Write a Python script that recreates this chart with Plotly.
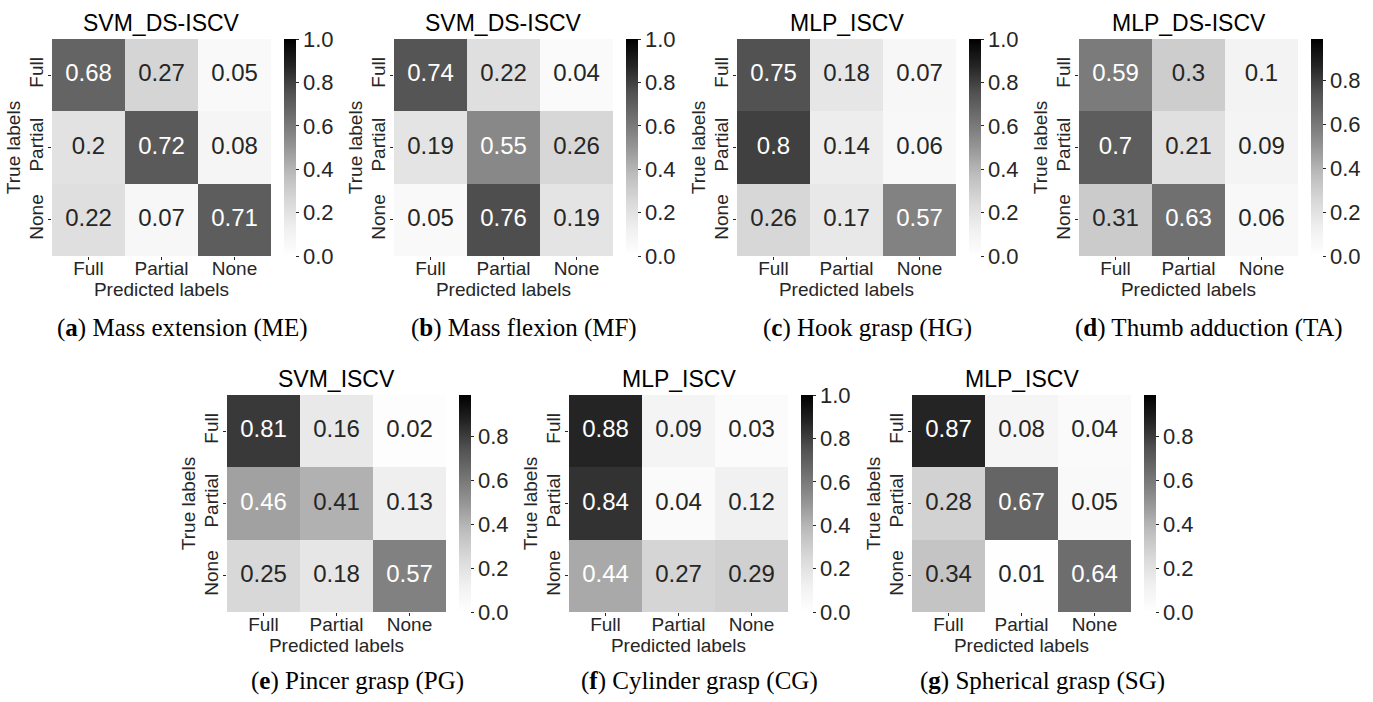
import plotly.graph_objects as go

W, H = 1373, 702

categories = ["Full", "Partial", "None"]

titles = ["SVM_DS-ISCV", "SVM_DS-ISCV", "MLP_ISCV", "MLP_DS-ISCV",
          "SVM_ISCV", "MLP_ISCV", "MLP_ISCV"]
captions = ["<b>a</b>", "<b>b</b>", "<b>c</b>", "<b>d</b>",
            "<b>e</b>", "<b>f</b>", "<b>g</b>"]
caption_names = ["Mass extension (ME)", "Mass flexion (MF)", "Hook grasp (HG)",
                 "Thumb adduction (TA)", "Pincer grasp (PG)",
                 "Cylinder grasp (CG)", "Spherical grasp (SG)"]

me = [[0.68, 0.27, 0.05], [0.2, 0.72, 0.08], [0.22, 0.07, 0.71]]
mf = [[0.74, 0.22, 0.04], [0.19, 0.55, 0.26], [0.05, 0.76, 0.19]]
hg = [[0.75, 0.18, 0.07], [0.8, 0.14, 0.06], [0.26, 0.17, 0.57]]
ta = [[0.59, 0.3, 0.1], [0.7, 0.21, 0.09], [0.31, 0.63, 0.06]]
pg = [[0.81, 0.16, 0.02], [0.46, 0.41, 0.13], [0.25, 0.18, 0.57]]
cg = [[0.88, 0.09, 0.03], [0.84, 0.04, 0.12], [0.44, 0.27, 0.29]]
sg = [[0.87, 0.08, 0.04], [0.28, 0.67, 0.05], [0.34, 0.01, 0.64]]
matrices = [me, mf, hg, ta, pg, cg, sg]
zmax_values = [1.0, 1.0, 1.0, 0.99, 0.99, 1.0, 0.99]

cbar_ticks = [0.0, 0.2, 0.4, 0.6, 0.8, 1.0]

# layout (pixels)
lefts = [52, 394, 737, 1079, 227, 569, 912]
tops = [39, 39, 39, 39, 395, 395, 395]
hm_w, hm_h = 219, 217
cb_gap, cb_w = 232, 12
cap_offset = 8
cap_y = {39: 328, 395: 681}

greys = [[0.0, "#ffffff"], [0.125, "#f0f0f0"], [0.25, "#d9d9d9"],
         [0.375, "#bdbdbd"], [0.5, "#969696"], [0.625, "#737373"],
         [0.75, "#525252"], [0.875, "#252525"], [1.0, "#000000"]]

SANS = "Liberation Sans, Arial, sans-serif"
SERIF = "Liberation Serif, Times New Roman, serif"
DARK = "#262626"

fig = go.Figure()
annotations = []
layout_axes = {}

for i, z in enumerate(matrices):
    n = i + 1
    xa = "x" if n == 1 else f"x{n}"
    ya = "y" if n == 1 else f"y{n}"
    left, top = lefts[i], tops[i]
    zmax = zmax_values[i]
    x0, x1 = left / W, (left + hm_w) / W
    y1, y0 = 1 - top / H, 1 - (top + hm_h) / H

    fig.add_trace(go.Heatmap(
        z=z, x=categories, y=categories, xaxis=xa, yaxis=ya,
        colorscale=greys, zmin=0, zmax=zmax, hoverinfo="skip",
        colorbar=dict(
            x=(left + cb_gap) / W, xanchor="left", xpad=0,
            y=1 - (top + hm_h / 2) / H, yanchor="middle", ypad=0,
            thickness=cb_w, thicknessmode="pixels",
            len=hm_h, lenmode="pixels", outlinewidth=0,
            tickvals=cbar_ticks, ticktext=[f"{t:.1f}" for t in cbar_ticks],
            ticks="outside", ticklen=3, tickwidth=1, tickcolor=DARK,
            tickfont=dict(family=SANS, size=22, color=DARK),
        ),
    ))

    xs, ys, txt, cols = [], [], [], []
    for r, rowlab in enumerate(categories):
        for c, collab in enumerate(categories):
            v = z[r][c]
            xs.append(collab)
            ys.append(rowlab)
            txt.append(f"{v:g}")
            cols.append("#ffffff" if v / zmax > 0.425 else DARK)
    fig.add_trace(go.Scatter(
        x=xs, y=ys, text=txt, mode="text", xaxis=xa, yaxis=ya,
        textfont=dict(family=SANS, size=24, color=cols),
        hoverinfo="skip", showlegend=False,
    ))

    xkey = "xaxis" if n == 1 else f"xaxis{n}"
    ykey = "yaxis" if n == 1 else f"yaxis{n}"
    layout_axes[xkey] = dict(
        domain=[x0, x1], anchor=ya, type="category",
        categoryorder="array", categoryarray=categories,
        showgrid=False, zeroline=False, showline=False,
        ticks="outside", ticklen=3, tickcolor=DARK, ticklabelstandoff=-8,
        tickfont=dict(family=SANS, size=19, color=DARK),
        title=dict(text="Predicted labels", standoff=0,
                   font=dict(family=SANS, size=19, color=DARK)),
        fixedrange=True,
    )
    layout_axes[ykey] = dict(
        domain=[y0, y1], anchor=xa, type="category",
        categoryorder="array", categoryarray=categories[::-1],
        showgrid=False, zeroline=False, showline=False,
        ticks="outside", ticklen=3, tickcolor=DARK, tickangle=-90,
        ticklabelstandoff=-3,
        tickfont=dict(family=SANS, size=19, color=DARK),
        title=dict(text="True labels", standoff=0,
                   font=dict(family=SANS, size=19, color=DARK)),
        fixedrange=True,
    )

    annotations.append(dict(
        text=titles[i], x=(x0 + x1) / 2, y=y1 + 1 / H,
        xref="paper", yref="paper", xanchor="center", yanchor="bottom",
        showarrow=False, font=dict(family=SANS, size=23, color="#000000"),
    ))
    annotations.append(dict(
        text=f"({captions[i]}) {caption_names[i]}",
        x=(left + (cb_gap + cb_w) / 2 + cap_offset) / W,
        y=1 - cap_y[top] / H,
        xref="paper", yref="paper", xanchor="center", yanchor="middle",
        showarrow=False, font=dict(family=SERIF, size=25, color="#000000"),
    ))

fig.update_layout(
    width=W, height=H, margin=dict(l=0, r=0, t=0, b=0),
    paper_bgcolor="white", plot_bgcolor="white",
    showlegend=False, annotations=annotations, **layout_axes,
)

fig.write_html("out.html",
               config={"displayModeBar": False, "staticPlot": True},
               post_script="document.body.style.margin='0px';"
                           "document.body.style.overflow='hidden';")
